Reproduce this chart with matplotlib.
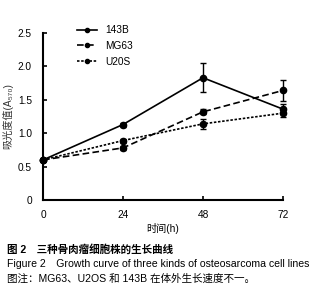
import matplotlib
matplotlib.use("Agg")
import matplotlib.pyplot as plt
from matplotlib.lines import Line2D

plt.rcParams['font.family'] = ['Liberation Sans', 'Noto Sans CJK SC', 'DejaVu Sans']

hours = [0, 24, 48, 72]
x_ticks = [0, 24, 48, 72]
y_ticks = [0, 0.5, 1.0, 1.5, 2.0, 2.5]
y_tick_labels = ["0", "0.5", "1.0", "1.5", "2.0", "2.5"]

od_143b = [0.60, 1.13, 1.83, 1.36]
err_143b = [0.02, 0.03, 0.22, 0.08]
od_mg63 = [0.60, 0.78, 1.32, 1.64]
err_mg63 = [0.02, 0.03, 0.04, 0.16]
od_u20s = [0.60, 0.89, 1.14, 1.30]
err_u20s = [0.02, 0.03, 0.08, 0.06]

series = [
    ("143B", od_143b, err_143b, "-"),
    ("MG63", od_mg63, err_mg63, (0, (4, 2))),
    ("U20S", od_u20s, err_u20s, (0, (1.5, 1))),
]

fig = plt.figure(figsize=(3.21, 2.95), dpi=100)
ax = fig.add_axes([43 / 321, 1 - 200 / 295, 240 / 321, 167 / 295])

handles = []
for name, vals, errs, ls in series:
    ax.errorbar(hours, vals, yerr=errs, color="black", linestyle=ls,
                linewidth=1.2, marker="o", markersize=4.5, capsize=2,
                elinewidth=1.0, capthick=1.0, clip_on=False)
    handles.append(Line2D([], [], color="black", linestyle=ls, linewidth=1.2,
                          marker="o", markersize=3, label=name))

ax.set_xlim(0, 72)
ax.set_ylim(0, 2.5)
ax.set_xticks(x_ticks)
ax.set_yticks(y_ticks)
ax.set_yticklabels(y_tick_labels)
ax.tick_params(direction="in", length=3, width=1.2, labelsize=7.3,
               colors="black")
ax.tick_params(axis="y", pad=8)
ax.tick_params(axis="x", pad=7)
for s in ["top", "right"]:
    ax.spines[s].set_visible(False)
for s in ["left", "bottom"]:
    ax.spines[s].set_linewidth(1.5)

ax.set_xlabel("时间(h)", fontsize=7.3, labelpad=2)
ax.set_ylabel("吸光度值(A₅₇₀)", fontsize=7.3, labelpad=3, color="#333333")

ax.legend(handles=handles, loc="upper left", bbox_to_anchor=(0.125, 1.07),
          frameon=False, fontsize=7.3, handlelength=2.0, handletextpad=0.8,
          labelspacing=0.55, borderaxespad=0)

fig.text(7 / 321, 1 - 249 / 295, "图 2　三种骨肉瘤细胞株的生长曲线",
         fontsize=7.6, va="center", fontweight="bold")
fig.text(7 / 321, 1 - 264 / 295,
         "Figure 2　Growth curve of three kinds of osteosarcoma cell lines",
         fontsize=7.6, va="center")
fig.text(7 / 321, 1 - 279 / 295, "图注：MG63、U2OS 和 143B 在体外生长速度不一。",
         fontsize=7.6, va="center")

fig.savefig("out.png", dpi=100)
